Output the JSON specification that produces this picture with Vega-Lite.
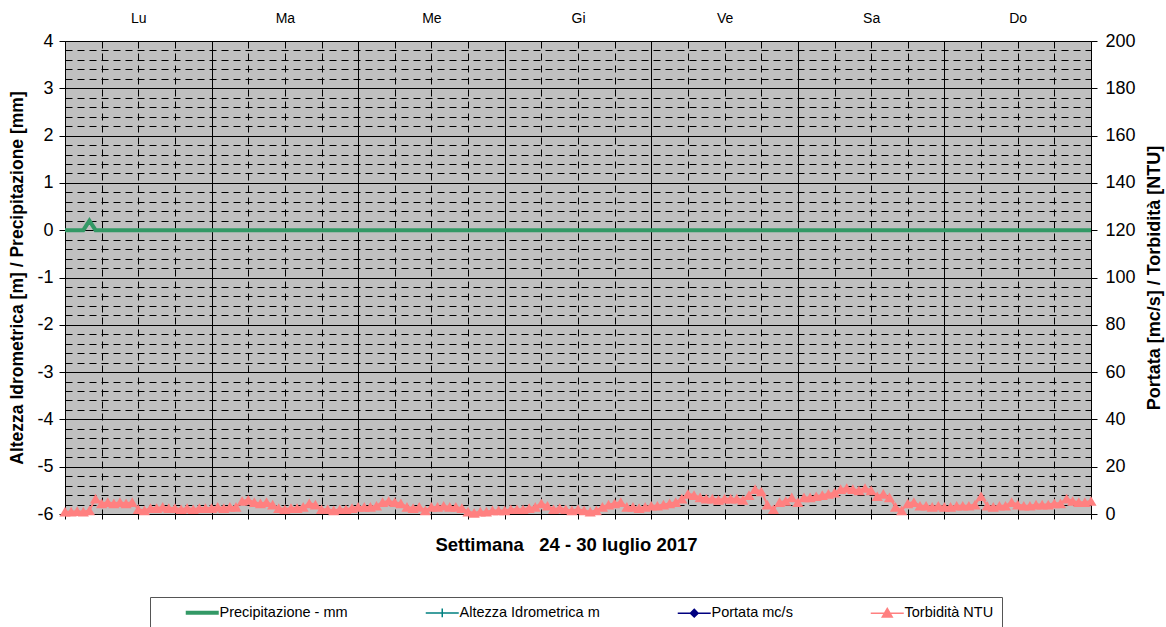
{
  "$schema": "https://vega.github.io/schema/vega-lite/v6.json",
  "width": 1026,
  "height": 473,
  "autosize": {"type": "none"},
  "padding": {"left": 65, "top": 41, "right": 75, "bottom": 113},
  "background": "white",
  "config": {
    "font": "Liberation Sans",
    "view": {"fill": "#C0C0C0", "stroke": null}
  },
  "datasets": {
    "precip": [
      {"h":0,"v":0},{"h":1,"v":0},{"h":2,"v":0},{"h":3,"v":0},{"h":4,"v":0.2},{"h":5,"v":0},{"h":6,"v":0},{"h":7,"v":0},{"h":8,"v":0},{"h":9,"v":0},{"h":10,"v":0},{"h":11,"v":0},{"h":12,"v":0},{"h":13,"v":0},{"h":14,"v":0},{"h":15,"v":0},{"h":16,"v":0},{"h":17,"v":0},{"h":18,"v":0},{"h":19,"v":0},{"h":20,"v":0},{"h":21,"v":0},{"h":22,"v":0},{"h":23,"v":0},
      {"h":24,"v":0},{"h":30,"v":0},{"h":36,"v":0},{"h":42,"v":0},{"h":48,"v":0},{"h":54,"v":0},{"h":60,"v":0},{"h":66,"v":0},{"h":72,"v":0},{"h":78,"v":0},{"h":84,"v":0},{"h":90,"v":0},{"h":96,"v":0},{"h":102,"v":0},{"h":108,"v":0},{"h":114,"v":0},{"h":120,"v":0},{"h":126,"v":0},{"h":132,"v":0},{"h":138,"v":0},{"h":144,"v":0},{"h":150,"v":0},{"h":156,"v":0},{"h":162,"v":0},{"h":168,"v":0}
    ],
    "torb": [
      {"h":0,"ntu":1},{"h":1,"ntu":1},{"h":2,"ntu":1.2},{"h":3,"ntu":1},{"h":4,"ntu":1.5},{"h":5,"ntu":6.5},{"h":6,"ntu":4.5},{"h":7,"ntu":5},{"h":8,"ntu":4.5},{"h":9,"ntu":5},{"h":10,"ntu":4.5},{"h":11,"ntu":5},{"h":12,"ntu":2},{"h":13,"ntu":1.5},{"h":14,"ntu":2.5},{"h":15,"ntu":2.5},{"h":16,"ntu":3},{"h":17,"ntu":2.5},{"h":18,"ntu":2.5},{"h":19,"ntu":2},{"h":20,"ntu":2.5},{"h":21,"ntu":2},{"h":22,"ntu":2.5},{"h":23,"ntu":2.5},
      {"h":24,"ntu":2.5},{"h":25,"ntu":3},{"h":26,"ntu":2.5},{"h":27,"ntu":3},{"h":28,"ntu":3},{"h":29,"ntu":5.5},{"h":30,"ntu":6},{"h":31,"ntu":5},{"h":32,"ntu":4.5},{"h":33,"ntu":5},{"h":34,"ntu":4},{"h":35,"ntu":2.5},{"h":36,"ntu":2},{"h":37,"ntu":2.5},{"h":38,"ntu":2.5},{"h":39,"ntu":3},{"h":40,"ntu":4.5},{"h":41,"ntu":4},{"h":42,"ntu":2},{"h":43,"ntu":2},{"h":44,"ntu":1.5},{"h":45,"ntu":2},{"h":46,"ntu":2},{"h":47,"ntu":2.5},
      {"h":48,"ntu":3},{"h":49,"ntu":3},{"h":50,"ntu":3},{"h":51,"ntu":3.5},{"h":52,"ntu":5},{"h":53,"ntu":5.5},{"h":54,"ntu":5},{"h":55,"ntu":4.5},{"h":56,"ntu":3},{"h":57,"ntu":2.5},{"h":58,"ntu":3},{"h":59,"ntu":1.5},{"h":60,"ntu":3},{"h":61,"ntu":3},{"h":62,"ntu":3.5},{"h":63,"ntu":3},{"h":64,"ntu":3},{"h":65,"ntu":2.5},{"h":66,"ntu":1},{"h":67,"ntu":0.5},{"h":68,"ntu":1},{"h":69,"ntu":1},{"h":70,"ntu":1.5},{"h":71,"ntu":1.5},
      {"h":72,"ntu":1.5},{"h":73,"ntu":2},{"h":74,"ntu":2},{"h":75,"ntu":2},{"h":76,"ntu":2.5},{"h":77,"ntu":3},{"h":78,"ntu":4.5},{"h":79,"ntu":3.5},{"h":80,"ntu":2},{"h":81,"ntu":2.5},{"h":82,"ntu":2},{"h":83,"ntu":1.5},{"h":84,"ntu":2},{"h":85,"ntu":1.5},{"h":86,"ntu":1},{"h":87,"ntu":1.5},{"h":88,"ntu":3},{"h":89,"ntu":4},{"h":90,"ntu":4.5},{"h":91,"ntu":5},{"h":92,"ntu":3},{"h":93,"ntu":3},{"h":94,"ntu":2.5},{"h":95,"ntu":3},
      {"h":96,"ntu":3.5},{"h":97,"ntu":3.5},{"h":98,"ntu":4},{"h":99,"ntu":4.5},{"h":100,"ntu":5},{"h":101,"ntu":6.5},{"h":102,"ntu":8.5},{"h":103,"ntu":8},{"h":104,"ntu":7},{"h":105,"ntu":6.5},{"h":106,"ntu":6.5},{"h":107,"ntu":6},{"h":108,"ntu":6.5},{"h":109,"ntu":6.5},{"h":110,"ntu":6.5},{"h":111,"ntu":6},{"h":112,"ntu":8},{"h":113,"ntu":10.5},{"h":114,"ntu":9.5},{"h":115,"ntu":4},{"h":116,"ntu":2},{"h":117,"ntu":5},{"h":118,"ntu":5.5},{"h":119,"ntu":7},
      {"h":120,"ntu":5},{"h":121,"ntu":7},{"h":122,"ntu":7},{"h":123,"ntu":7.5},{"h":124,"ntu":8},{"h":125,"ntu":8.5},{"h":126,"ntu":9},{"h":127,"ntu":10.5},{"h":128,"ntu":11},{"h":129,"ntu":10.5},{"h":130,"ntu":10},{"h":131,"ntu":11},{"h":132,"ntu":10},{"h":133,"ntu":7.5},{"h":134,"ntu":8.5},{"h":135,"ntu":7},{"h":136,"ntu":3},{"h":137,"ntu":1.5},{"h":138,"ntu":4.5},{"h":139,"ntu":5},{"h":140,"ntu":3.5},{"h":141,"ntu":3.5},{"h":142,"ntu":3},{"h":143,"ntu":3.5},
      {"h":144,"ntu":3},{"h":145,"ntu":3},{"h":146,"ntu":3.5},{"h":147,"ntu":3.5},{"h":148,"ntu":3.5},{"h":149,"ntu":4},{"h":150,"ntu":7.5},{"h":151,"ntu":3.5},{"h":152,"ntu":3},{"h":153,"ntu":3.5},{"h":154,"ntu":3.5},{"h":155,"ntu":5},{"h":156,"ntu":4},{"h":157,"ntu":3.5},{"h":158,"ntu":3.5},{"h":159,"ntu":4},{"h":160,"ntu":4},{"h":161,"ntu":4},{"h":162,"ntu":4.5},{"h":163,"ntu":4.5},{"h":164,"ntu":6.5},{"h":165,"ntu":5.5},{"h":166,"ntu":5},{"h":167,"ntu":5},{"h":168,"ntu":5.5}
    ]
  },
  "layer": [
    {
      "data": {"name": "precip"},
      "mark": {"type": "line", "strokeWidth": 4},
      "encoding": {
        "x": {
          "field": "h", "type": "quantitative",
          "scale": {"domain": [0, 168], "nice": false, "zero": false},
          "axis": {
            "orient": "bottom",
            "values": [0,6,12,18,24,30,36,42,48,54,60,66,72,78,84,90,96,102,108,114,120,126,132,138,144,150,156,162,168],
            "labels": false,
            "ticks": true, "tickSize": 5, "tickColor": "#000000", "tickWidth": 1,
            "domain": true, "domainColor": "#000000", "domainWidth": 1,
            "grid": true, "gridColor": "#000000", "gridOpacity": 1, "gridWidth": 1,
            "gridDash": {"condition": {"test": "datum.value % 24 === 0", "value": []}, "value": [7, 5]},
            "title": "Settimana\u00a0\u00a0\u00a024 - 30 luglio 2017",
            "titleFontSize": 18.5, "titleFontWeight": "bold", "titleColor": "#000000",
            "titlePadding": 16, "titleX": 501
          }
        },
        "y": {
          "field": "v", "type": "quantitative",
          "scale": {"domain": [-6, 4], "nice": false, "zero": false},
          "axis": {
            "orient": "left",
            "values": [-6,-5.8,-5.6,-5.4,-5.2,-5,-4.8,-4.6,-4.4,-4.2,-4,-3.8,-3.6,-3.4,-3.2,-3,-2.8,-2.6,-2.4,-2.2,-2,-1.8,-1.6,-1.4,-1.2,-1,-0.8,-0.6,-0.4,-0.2,0,0.2,0.4,0.6,0.8,1,1.2,1.4,1.6,1.8,2,2.2,2.4,2.6,2.8,3,3.2,3.4,3.6,3.8,4],
            "labelExpr": "abs(datum.value - round(datum.value)) < 0.001 ? '' + round(datum.value) : ''",
            "labelOverlap": false, "labelFlush": false,
            "labelFontSize": 18, "labelColor": "#000000", "labelPadding": 6,
            "ticks": true, "tickSize": 6, "tickColor": "#000000",
            "tickOpacity": {"condition": {"test": "abs(datum.value - round(datum.value)) < 0.001", "value": 1}, "value": 0},
            "domain": true, "domainColor": "#000000",
            "grid": true, "gridColor": "#000000", "gridOpacity": 1, "gridWidth": 1,
            "gridDash": {"condition": {"test": "abs(datum.value - round(datum.value)) < 0.001", "value": []}, "value": [7, 5]},
            "title": "Altezza Idrometrica [m] / Precipitazione [mm]",
            "titleFontSize": 17.5, "titleFontWeight": "bold", "titleColor": "#000000",
            "titlePadding": 10
          }
        },
        "color": {
          "datum": "Precipitazione - mm",
          "type": "nominal",
          "scale": {
            "domain": ["Precipitazione - mm", "Altezza Idrometrica m", "Portata mc/s", "Torbidità NTU"],
            "range": ["#339966", "#008080", "#000080", "#FF8080"]
          },
          "legend": {
            "orient": "none", "legendX": 85, "legendY": 556,
            "direction": "horizontal", "columns": 4, "columnPadding": 74,
            "padding": 8, "strokeColor": "#555555", "fillColor": "#ffffff",
            "title": "\u00a0", "titleOrient": "left", "titleFontSize": 1, "titlePadding": 26,
            "symbolSize": 121, "labelOffset": 21, "labelFontSize": 14.5, "labelColor": "#000000", "labelLimit": 300,
            "encode": {
              "symbols": {
                "update": {
                  "shape": {"signal": "datum.value === 'Precipitazione - mm' ? 'M-1,0H5' : datum.value === 'Altezza Idrometrica m' ? 'M-1,0H5M2,-0.8V0.8' : datum.value === 'Portata mc/s' ? 'M-1,0H5M2,-0.7L2.7,0L2,0.7L1.3,0Z' : 'M-1,0H5M2,-0.9L2.9,0.65L1.1,0.65Z'"},
                  "strokeWidth": {"signal": "datum.value === 'Precipitazione - mm' ? 4 : 1.5"},
                  "stroke": {"signal": "scale('color', datum.value)"},
                  "fill": {"signal": "scale('color', datum.value)"},
                  "opacity": {"value": 1}
                }
              }
            }
          }
        }
      }
    },
    {
      "data": {"name": "torb"},
      "mark": {"type": "line", "strokeWidth": 2, "point": {"shape": "triangle-up", "size": 125, "filled": true, "opacity": 1}},
      "encoding": {
        "x": {
          "field": "h", "type": "quantitative",
          "scale": {"domain": [0, 168], "nice": false, "zero": false},
          "axis": {
            "orient": "top",
            "values": [12, 36, 60, 84, 108, 132, 156],
            "labelExpr": "['Lu','Ma','Me','Gi','Ve','Sa','Do'][floor(datum.value / 24)]",
            "labelFontSize": 14, "labelColor": "#000000", "labelPadding": 16,
            "labelFlush": false, "labelOverlap": false,
            "ticks": false, "domain": false, "grid": false, "title": null
          }
        },
        "y": {
          "field": "ntu", "type": "quantitative",
          "scale": {"domain": [0, 200], "nice": false, "zero": false},
          "axis": {
            "orient": "right",
            "values": [0,20,40,60,80,100,120,140,160,180,200],
            "labelFontSize": 18, "labelColor": "#000000", "labelPadding": 8,
            "labelFlush": false, "labelOverlap": false,
            "ticks": true, "tickSize": 6, "tickColor": "#000000",
            "domain": true, "domainColor": "#000000",
            "grid": false,
            "title": "Portata [mc/s] / Torbidità [NTU]",
            "titleFontSize": 18, "titleFontWeight": "bold", "titleColor": "#000000",
            "titleAngle": 270, "titlePadding": 28
          }
        },
        "color": {
          "datum": "Torbidità NTU",
          "type": "nominal",
          "legend": null
        }
      }
    }
  ],
  "resolve": {
    "scale": {"y": "independent"},
    "axis": {"x": "independent", "y": "independent"}
  }
}
